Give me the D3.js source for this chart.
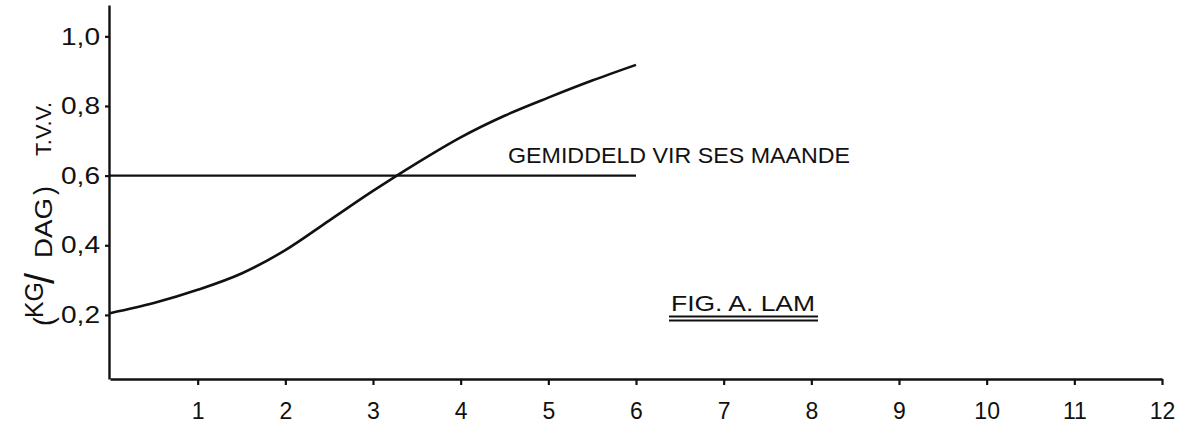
<!DOCTYPE html>
<html>
<head>
<meta charset="utf-8">
<script src="https://cdn.jsdelivr.net/npm/d3@7"></script>
<style>
  html, body { margin: 0; padding: 0; background: #fff; }
  svg { display: block; }
  text { font-family: "Liberation Sans", Arial, Helvetica, sans-serif; fill: #111; }
</style>
</head>
<body>
<svg id="chart" width="1184" height="439"></svg>
<script>
// ---- data ----
const months = [0, 0.5, 1, 1.5, 2, 2.5, 3, 3.5, 4, 4.5, 5, 5.5, 6];
const intake = [0.205, 0.234, 0.272, 0.319, 0.386, 0.471, 0.556, 0.636, 0.71, 0.772, 0.824, 0.873, 0.918];
const averageValue = 0.6;
const averageRange = [0, 6];
const xTicks = [1, 2, 3, 4, 5, 6, 7, 8, 9, 10, 11, 12];
const yTicks = [0.2, 0.4, 0.6, 0.8, 1.0];
const averageLabel = "GEMIDDELD VIR SES MAANDE";
const figLabel = "FIG. A. LAM";

// ---- scales ----
const svg = d3.select("#chart");
const x = d3.scaleLinear().domain([0, 12]).range([110, 1162]);
const y = d3.scaleLinear().domain([0.016, 1.09]).range([379, 5]);

const ink = "#111";
const fam = "'Liberation Sans', Arial, sans-serif";

// ---- axes ----
const yAxis = d3.axisLeft(y)
  .tickValues(yTicks)
  .tickSize(4)
  .tickSizeOuter(0)
  .tickPadding(5)
  .tickFormat(d => d3.format(".1f")(d).replace(".", ","));
const gy = svg.append("g").attr("transform", "translate(109,0)").call(yAxis);
gy.select(".domain").attr("stroke", ink).attr("stroke-width", 2.4);
gy.selectAll(".tick line").attr("stroke", ink).attr("stroke-width", 2.2);
gy.selectAll(".tick text").attr("font-size", 24).attr("fill", ink)
  .attr("textLength", 39).attr("lengthAdjust", "spacingAndGlyphs")
  .style("font-family", fam);

const xAxis = d3.axisBottom(x)
  .tickValues(xTicks)
  .tickSize(6)
  .tickSizeOuter(0)
  .tickPadding(18)
  .tickFormat(d3.format("d"));
const gx = svg.append("g").attr("transform", "translate(0,379)").call(xAxis);
gx.select(".domain").attr("stroke", ink).attr("stroke-width", 2.4);
gx.selectAll(".tick line").attr("stroke", ink).attr("stroke-width", 2.2);
gx.selectAll(".tick text").attr("font-size", 23).attr("fill", ink)
  .style("font-family", fam);

// ---- average line ----
svg.append("line")
  .attr("x1", x(averageRange[0])).attr("x2", x(averageRange[1]))
  .attr("y1", y(averageValue)).attr("y2", y(averageValue))
  .attr("stroke", ink).attr("stroke-width", 2.2);

svg.append("text")
  .attr("x", 508).attr("y", 163)
  .attr("font-size", 22)
  .attr("textLength", 342).attr("lengthAdjust", "spacingAndGlyphs")
  .text(averageLabel);

// ---- curve ----
const line = d3.line()
  .x((d, i) => x(months[i]))
  .y(d => y(d))
  .curve(d3.curveMonotoneX);
svg.append("path")
  .datum(intake)
  .attr("d", line)
  .attr("fill", "none")
  .attr("stroke", ink)
  .attr("stroke-width", 2.6);

// ---- figure label ----
svg.append("text")
  .attr("x", 671).attr("y", 311)
  .attr("font-size", 22)
  .attr("textLength", 144).attr("lengthAdjust", "spacingAndGlyphs")
  .text(figLabel);
[316.5, 320.5].forEach(yy => {
  svg.append("line")
    .attr("x1", 669).attr("x2", 818)
    .attr("y1", yy).attr("y2", yy)
    .attr("stroke", ink).attr("stroke-width", 1.8);
});

// ---- y-axis title: (KG/DAG) T.V.V. ----
const gt = svg.append("g").attr("transform", "translate(52,326) rotate(-90)");
gt.append("text").attr("x", 0).attr("y", 1).attr("font-size", 27).text("(");
gt.append("text").attr("x", 8).attr("y", -9).attr("font-size", 25)
  .attr("textLength", 36).attr("lengthAdjust", "spacingAndGlyphs").text("KG");
gt.append("text").attr("x", 42).attr("y", 2).attr("font-size", 40).text("/");
gt.append("text").attr("x", 68).attr("y", 0).attr("font-size", 24)
  .attr("textLength", 60).attr("lengthAdjust", "spacingAndGlyphs").text("DAG");
gt.append("text").attr("x", 131).attr("y", 1).attr("font-size", 27).text(")");
gt.append("text").attr("x", 170).attr("y", -1).attr("font-size", 22)
  .attr("textLength", 54).attr("lengthAdjust", "spacingAndGlyphs").text("T.V.V.");
</script>
</body>
</html>
